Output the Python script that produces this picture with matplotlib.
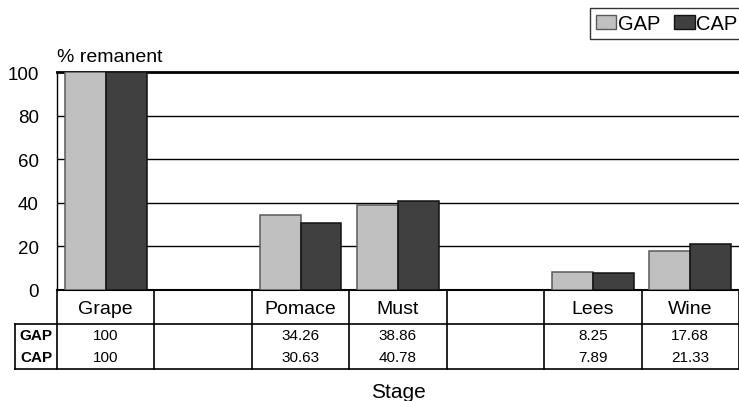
import numpy as np
import matplotlib
matplotlib.use('Agg')
import matplotlib.pyplot as plt
from matplotlib.patches import Patch

plt.rcParams['font.family'] = ['Liberation Sans', 'DejaVu Sans']

# data
stages = ['Grape', '', 'Pomace', 'Must', '', 'Lees', 'Wine']
gap = [100, np.nan, 34.26, 38.86, np.nan, 8.25, 17.68]
cap = [100, np.nan, 30.63, 40.78, np.nan, 7.89, 21.33]
series = ['GAP', 'CAP']
yticks = [0, 20, 40, 60, 80, 100]

W, H = 739, 402
fig = plt.figure(figsize=(W / 100, H / 100), dpi=100)

# main axes: x 57..739 px, y 73..291 px
ax_l, ax_r, ax_t, ax_b = 57, 739, 73, 291
ax = fig.add_axes([ax_l / W, 1 - ax_b / H, (ax_r - ax_l) / W, (ax_b - ax_t) / H])

x = np.arange(len(stages))
bw = 0.42
ax.bar(x - bw / 2, gap, bw, color='#c0c0c0', edgecolor='#5a5a5a', linewidth=1.1, zorder=3, label='GAP')
ax.bar(x + bw / 2, cap, bw, color='#404040', edgecolor='#111111', linewidth=1.1, zorder=3, label='CAP')

ax.set_xlim(-0.5, len(stages) - 0.5)
ax.set_ylim(0, 100)
ax.set_yticks(yticks)
ax.set_yticklabels([str(t) for t in yticks], fontsize=13.5)
ax.tick_params(axis='y', length=0, pad=13)
ax.set_xticks([])
for t in yticks[1:-1]:
    ax.axhline(t, color='black', linewidth=1.0, zorder=1)
ax.spines['right'].set_visible(False)
ax.spines['top'].set_linewidth(2.0)
ax.spines['left'].set_linewidth(1.0)
ax.spines['bottom'].set_linewidth(1.5)

fig.text(57 / W, 1 - 57 / H, '% remanent', fontsize=14, ha='left', va='center')

# legend
handles = [Patch(facecolor='#c0c0c0', edgecolor='#5a5a5a', linewidth=1.0),
           Patch(facecolor='#404040', edgecolor='#111111', linewidth=1.0)]
leg = fig.legend(handles, series, loc='upper right', bbox_to_anchor=(1.006, 1 - 9 / H),
                 ncol=2, fontsize=14.5, frameon=True, fancybox=False, edgecolor='black',
                 handlelength=1.0, handleheight=0.65, handletextpad=0.08, columnspacing=0.7,
                 borderpad=0.3, borderaxespad=0)
leg.get_frame().set_linewidth(1.0)

# data table below the plot
tb_b = 370
head_b = 325
tax = fig.add_axes([ax_l / W, 1 - tb_b / H, (ax_r - ax_l) / W, (tb_b - ax_b) / H])
tax.set_xlim(-0.5, len(stages) - 0.5)
tax.set_ylim(tb_b - ax_b, 0)
tax.axis('off')
lk = dict(color='black', linewidth=1.2, clip_on=False)
unit = (len(stages)) / (ax_r - ax_l)
left_x = -0.5 - (ax_l - 15) * unit
hy = head_b - ax_b
th = tb_b - ax_b
tax.plot([left_x, len(stages) - 0.5], [hy, hy], **lk)
tax.plot([left_x, len(stages) - 0.5], [th, th], **lk)
tax.plot([left_x, left_x], [hy, th], **lk)
for b in np.arange(len(stages) + 1) - 0.5:
    tax.plot([b, b], [0, th], **lk)

row_y = [hy + 11, hy + 33]
for i, s in enumerate(stages):
    tax.text(i, hy / 2 + 1, s, fontsize=14, ha='center', va='center')
    for vals, ry in zip([gap, cap], row_y):
        if not np.isnan(vals[i]):
            tax.text(i, ry, '%g' % vals[i], fontsize=11, ha='center', va='center')
for name, ry in zip(series, row_y):
    tax.text((left_x - 0.5) / 2, ry, name, fontsize=11, fontweight='bold', ha='center', va='center')

fig.text(398 / W, 1 - 393 / H, 'Stage', fontsize=15, ha='center', va='center')

fig.savefig('out.png', dpi=100)
